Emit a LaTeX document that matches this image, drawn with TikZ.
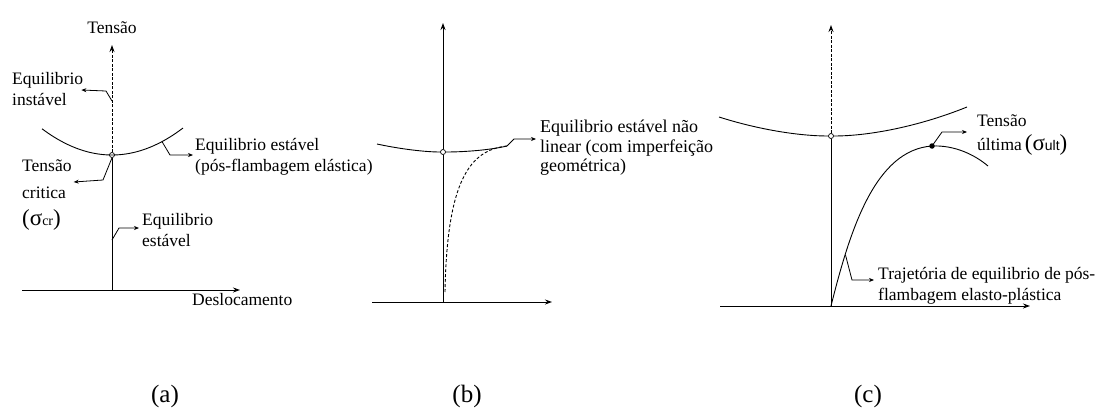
\documentclass[tikz,border=0pt]{standalone}
\usepackage{fontspec}
\setmainfont{Liberation Serif}
\newfontfamily\sansf{Liberation Sans}
\usetikzlibrary{arrows.meta}
\tikzset{
  axisline/.style={line width=0.9pt,-{Stealth[length=7pt,width=5pt]}},
  dashaxis/.style={line width=0.9pt,dashed,dash pattern=on 3pt off 1.5pt,-{Stealth[length=7pt,width=5pt]}},
  curveline/.style={line width=0.9pt},
  dashcurve/.style={line width=0.9pt,dash pattern=on 3pt off 2pt},
  leader/.style={line width=0.8pt,-{Stealth[length=5pt,width=4pt]}},
  lbl/.style={font=\fontsize{17.5}{21.5}\selectfont,align=left,inner sep=0pt,anchor=west},
  captxt/.style={font=\fontsize{25}{26}\selectfont,inner sep=0pt},
  opendot/.style={circle,draw,fill=white,line width=0.7pt,minimum size=5pt,inner sep=0pt},
  fulldot/.style={circle,fill=black,minimum size=5.5pt,inner sep=0pt}
}
\newcommand{\bigsig}[1]{{\fontsize{23}{23}\selectfont(σ}{\fontsize{14}{14}\selectfont #1}{\fontsize{23}{23}\selectfont)}}
\begin{document}
\begin{tikzpicture}[x=1pt,y=-1pt]
\useasboundingbox (0,0) rectangle (1101,410);
% ---------------- (a) ----------------
\coordinate (Oa) at (112,290);
\coordinate (Ya) at (112,45);
\coordinate (Xa0) at (22,290);
\coordinate (Xa) at (240,290);
\node[opendot] (Ca) at (112,155) {};
\draw[curveline] plot[domain=42:183,samples=60,smooth] (\x,{155-0.00536*(\x-112)^2});
\draw[curveline] (Oa) -- (Ca.south);
\draw[dashaxis] (Ca.north) -- (Ya);
\draw[axisline] (Xa0) -- (Xa);
\node[lbl,anchor=center] (ta) at (112,28) {Tensão};
\node[lbl] (da) at (192,300) {Deslocamento};
\node[lbl] (ia) at (12,89) {Equilibrio\\instável};
\node[lbl] (ea) at (195,157) {Equilibrio estável\\(pós-flambagem elástica)};
\node[lbl,font=\fontsize{17.5}{27}\selectfont] (ca) at (22,195) {Tensão\\critica\\\bigsig{cr}};
\node[lbl] (sa) at (142,230) {Equilibrio\\estável};
\coordinate (a1) at (112,101);
\coordinate (a2) at (162,141.6);
\coordinate (a4) at (112,240);
\draw[leader] (a1) -- (106,91) -- ([xshift=-2pt]ia.east |- 0,90);
\draw[leader] (a2) -- (170,155) -- ([xshift=-2pt]ea.west |- 0,155);
\draw[leader] (Ca.south) -- (103,180) -- ([xshift=2pt]ca.east |- 0,182);
\draw[leader] (a4) -- (119,228) -- ([xshift=-3pt]sa.west |- 0,228);
% ---------------- (b) ----------------
\coordinate (Ob) at (443,302);
\coordinate (Yb) at (443,23);
\coordinate (Xb0) at (372,302);
\coordinate (Xb) at (552,302);
\node[opendot] (Cb) at (443,152) {};
\draw[curveline] (Ob) -- (Cb.south);
\draw[axisline] (Cb.north) -- (Yb);
\draw[axisline] (Xb0) -- (Xb);
\coordinate (b1) at (507,146);
\draw[curveline] (377,144) .. controls (400,149) and (425,152) .. (Cb.west);
\draw[curveline] (Cb.east) .. controls (465,152) and (490,150) .. (b1);
\draw[dashcurve] (445,292) .. controls (447,180) and (470,150) .. (b1);
\node[lbl,font=\fontsize{18}{19.5}\selectfont] (nb) at (540,148) {Equilibrio estável não\\linear (com imperfeição\\geométrica)};
\draw[leader] (b1) -- (514,139) -- ([xshift=-4pt]nb.west |- 0,139);
% ---------------- (c) ----------------
\coordinate (Oc) at (831,306);
\coordinate (Yc) at (831,25);
\coordinate (Xc0) at (720,306);
\coordinate (Xc) at (1030,306);
\node[opendot] (Cc) at (831,136) {};
\draw[curveline] (Oc) -- (Cc.south);
\draw[dashaxis] (Cc.north) -- (Yc);
\draw[axisline] (Xc0) -- (Xc);
\draw[curveline] (719,117) .. controls (760,130) and (800,136) .. (Cc.west);
\draw[curveline] (Cc.east) .. controls (870,136) and (920,126) .. (967,107);
\node[fulldot] (Uc) at (932,146) {};
\draw[curveline] (Oc) .. controls (850,230) and (875,150) .. (Uc.center) .. controls (955,145) and (975,155) .. (988,166);
\node[lbl,font=\fontsize{17.5}{24}\selectfont] (tc) at (977,135) {Tensão\\última\,{\fontsize{23}{23}\selectfont(σ}{\sansf\fontsize{14}{14}\selectfont ult}{\fontsize{23}{23}\selectfont)}};
\node[lbl] (rc) at (878,286) {Trajetória de equilibrio de pós-\\flambagem elasto-plástica};
\coordinate (c1) at (845.5,255);
\draw[leader] (Uc.center) -- (942,132) -- ([xshift=-10pt]tc.west |- 0,132);
\draw[leader] (c1) -- (852,280) -- ([xshift=-4pt]rc.west |- 0,280);
% ---------------- captions ----------------
\node[captxt] (capa) at (165,396) {(a)};
\node[captxt] (capb) at (467,396) {(b)};
\node[captxt] (capc) at (868,396) {(c)};
\end{tikzpicture}
\end{document}
